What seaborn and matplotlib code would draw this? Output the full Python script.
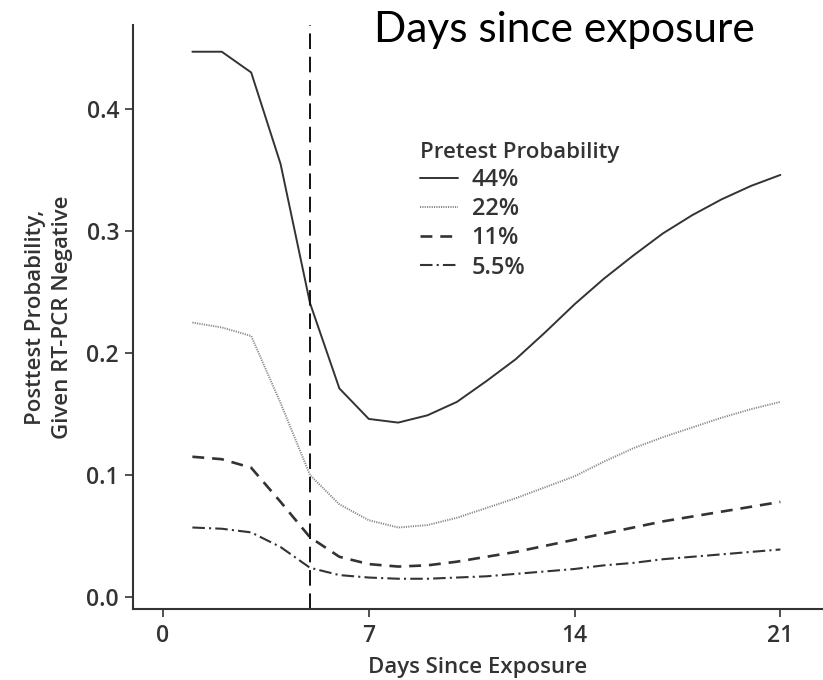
import numpy as np
import pandas as pd
import matplotlib.pyplot as plt
import seaborn as sns

# days since exposure (1..21)
days = list(range(1, 22))

# posttest probability given negative RT-PCR
p44 = [0.447, 0.447, 0.430, 0.355, 0.241, 0.171, 0.146, 0.143, 0.149, 0.160,
       0.177, 0.195, 0.217, 0.240, 0.261, 0.280, 0.298, 0.313, 0.326, 0.337, 0.346]
p22 = [0.225, 0.221, 0.214, 0.159, 0.100, 0.076, 0.063, 0.057, 0.059, 0.065,
       0.073, 0.081, 0.090, 0.099, 0.111, 0.122, 0.131, 0.139, 0.147, 0.154, 0.160]
p11 = [0.115, 0.113, 0.106, 0.078, 0.049, 0.033, 0.027, 0.025, 0.026, 0.029,
       0.033, 0.037, 0.042, 0.047, 0.052, 0.057, 0.062, 0.066, 0.070, 0.074, 0.078]
p55 = [0.057, 0.056, 0.053, 0.041, 0.024, 0.018, 0.016, 0.015, 0.015, 0.016,
       0.017, 0.019, 0.021, 0.023, 0.026, 0.028, 0.031, 0.033, 0.035, 0.037, 0.039]

labels = ['44%', '22%', '11%', '5.5%']
test_day = 5

sns.set_theme(style='ticks')
plt.rcParams['font.family'] = ['Open Sans', 'DejaVu Sans']
ink = '#333333'

fig = plt.figure(figsize=(8.23, 6.8), dpi=100)
ax = fig.add_axes([0.1616, 0.1044, 0.8384, 0.859])

styles = [
    dict(color=ink, lw=1.4, linestyle='-'),
    dict(color='#888888', lw=1.4, linestyle=(0, (0.6, 0.6))),
    dict(color=ink, lw=1.9, linestyle=(0, (4.5, 3))),
    dict(color=ink, lw=1.5, linestyle=(0, (6, 2, 1, 2))),
]
for vals, lab, st in zip([p44, p22, p11, p55], labels, styles):
    sns.lineplot(x=days, y=vals, ax=ax, label=lab, **st)

ax.axvline(test_day, color='#111111', lw=1.4, linestyle=(0, (8, 4)))

ax.set_xlim(-1.02, 22.45)
ax.set_ylim(-0.0098, 0.469)
ax.set_xticks([0, 7, 14, 21])
ax.set_yticks([0.0, 0.1, 0.2, 0.3, 0.4])
ax.set_yticklabels(['0.0', '0.1', '0.2', '0.3', '0.4'])
sns.despine(ax=ax)
for s in ['left', 'bottom']:
    ax.spines[s].set_color(ink)
    ax.spines[s].set_linewidth(1.5)
ax.tick_params(axis='both', colors=ink, labelsize=16.5, length=6, width=1.2, pad=4)
ax.tick_params(axis='x', pad=5)
plt.setp(ax.get_xticklabels() + ax.get_yticklabels(), fontweight='semibold')

ax.set_xlabel('Days Since Exposure', fontsize=16, color=ink, fontweight='semibold', labelpad=6)
ax.set_ylabel('Posttest Probability,\nGiven RT-PCR Negative', fontsize=16, color=ink,
              fontweight='semibold', labelpad=10, linespacing=1.35)

leg = ax.legend(loc='upper left', bbox_to_anchor=(408 / 823, 1 - 130 / 680),
                bbox_transform=fig.transFigure, frameon=False, title='Pretest Probability',
                fontsize=17, title_fontsize=16, handlelength=1.6, handletextpad=0.6,
                labelspacing=0.22, borderpad=0, alignment='left')
leg.get_title().set_fontweight('semibold')
leg.get_title().set_color(ink)
for t in leg.get_texts():
    t.set_color(ink)
    t.set_fontweight('semibold')

fig.text(564 / 823, 1 - 42 / 680, 'Days since exposure', ha='center', va='baseline',
         fontsize=30.5, color='black', family=['Lato', 'DejaVu Sans'])

fig.savefig('out.png', dpi=100)
